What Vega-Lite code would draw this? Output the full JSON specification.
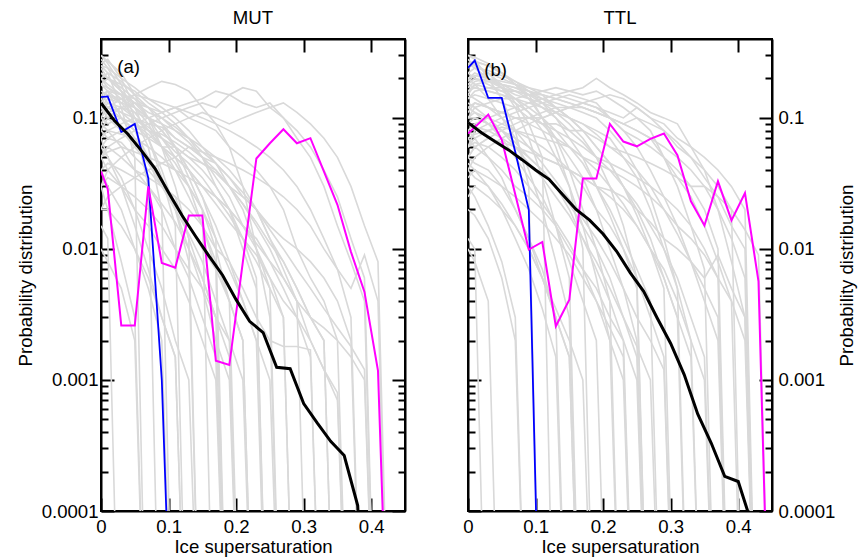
{
"$schema": "https://vega.github.io/schema/vega-lite/v6.json",
"padding": {"left": 15, "top": 8, "right": 0, "bottom": 0},
"background": "white",
"config": {
  "font": "Liberation Sans",
  "view": {"stroke": "black", "strokeWidth": 2},
  "axis": {"domain": true, "domainColor": "black", "domainWidth": 2, "grid": false, "tickColor": "black", "tickWidth": 2, "labelColor": "black", "labelFontSize": 18.6, "labelFont": "Liberation Sans", "titleFont": "Liberation Sans", "titleFontSize": 18.6, "titleFontWeight": "normal", "titleColor": "black", "labelFlush": false, "labelOverlap": false, "zindex": 1},
  "title": {"font": "Liberation Sans", "fontSize": 18.6, "fontWeight": "normal", "color": "black"},
  "concat": {"spacing": 54}
},
"datasets": {
"mut": [
{"i":1,"x":0,"y":0.25},{"i":1,"x":0.01,"y":0.22},{"i":1,"x":0.03,"y":0.12},{"i":1,"x":0.05,"y":0.05},{"i":1,"x":0.07,"y":1e-6},
{"i":2,"x":0,"y":0.3},{"i":2,"x":0.01,"y":0.26},{"i":2,"x":0.03,"y":0.18},{"i":2,"x":0.05,"y":0.1},{"i":2,"x":0.07,"y":0.06},{"i":2,"x":0.09,"y":0.02},{"i":2,"x":0.11,"y":1e-6},
{"i":3,"x":0,"y":0.2},{"i":3,"x":0.01,"y":0.18},{"i":3,"x":0.03,"y":0.15},{"i":3,"x":0.05,"y":0.09},{"i":3,"x":0.07,"y":0.07},{"i":3,"x":0.09,"y":0.04},{"i":3,"x":0.11,"y":0.02},{"i":3,"x":0.13,"y":0.008},{"i":3,"x":0.15,"y":1e-6},
{"i":4,"x":0,"y":0.15},{"i":4,"x":0.01,"y":0.16},{"i":4,"x":0.03,"y":0.1},{"i":4,"x":0.05,"y":0.08},{"i":4,"x":0.07,"y":0.05},{"i":4,"x":0.09,"y":0.03},{"i":4,"x":0.11,"y":0.025},{"i":4,"x":0.13,"y":0.012},{"i":4,"x":0.15,"y":0.006},{"i":4,"x":0.17,"y":0.003},{"i":4,"x":0.19,"y":1e-6},
{"i":5,"x":0,"y":0.22},{"i":5,"x":0.01,"y":0.2},{"i":5,"x":0.03,"y":0.17},{"i":5,"x":0.05,"y":0.14},{"i":5,"x":0.07,"y":0.1},{"i":5,"x":0.09,"y":0.08},{"i":5,"x":0.11,"y":0.06},{"i":5,"x":0.13,"y":0.035},{"i":5,"x":0.15,"y":0.02},{"i":5,"x":0.17,"y":0.01},{"i":5,"x":0.19,"y":0.004},{"i":5,"x":0.21,"y":1e-6},
{"i":6,"x":0,"y":0.18},{"i":6,"x":0.01,"y":0.2},{"i":6,"x":0.03,"y":0.18},{"i":6,"x":0.05,"y":0.16},{"i":6,"x":0.07,"y":0.13},{"i":6,"x":0.09,"y":0.11},{"i":6,"x":0.11,"y":0.09},{"i":6,"x":0.13,"y":0.07},{"i":6,"x":0.15,"y":0.05},{"i":6,"x":0.17,"y":0.03},{"i":6,"x":0.19,"y":0.02},{"i":6,"x":0.21,"y":0.012},{"i":6,"x":0.23,"y":0.006},{"i":6,"x":0.25,"y":1e-6},
{"i":7,"x":0,"y":0.1},{"i":7,"x":0.01,"y":0.12},{"i":7,"x":0.03,"y":0.11},{"i":7,"x":0.05,"y":0.1},{"i":7,"x":0.07,"y":0.09},{"i":7,"x":0.09,"y":0.085},{"i":7,"x":0.11,"y":0.07},{"i":7,"x":0.13,"y":0.06},{"i":7,"x":0.15,"y":0.05},{"i":7,"x":0.17,"y":0.045},{"i":7,"x":0.19,"y":0.035},{"i":7,"x":0.21,"y":0.025},{"i":7,"x":0.23,"y":0.02},{"i":7,"x":0.25,"y":0.012},{"i":7,"x":0.27,"y":0.007},{"i":7,"x":0.29,"y":0.004},{"i":7,"x":0.31,"y":1e-6},
{"i":8,"x":0,"y":0.08},{"i":8,"x":0.01,"y":0.1},{"i":8,"x":0.03,"y":0.12},{"i":8,"x":0.05,"y":0.13},{"i":8,"x":0.07,"y":0.12},{"i":8,"x":0.09,"y":0.11},{"i":8,"x":0.11,"y":0.12},{"i":8,"x":0.13,"y":0.1},{"i":8,"x":0.15,"y":0.09},{"i":8,"x":0.17,"y":0.08},{"i":8,"x":0.19,"y":0.06},{"i":8,"x":0.21,"y":0.05},{"i":8,"x":0.23,"y":0.04},{"i":8,"x":0.25,"y":0.03},{"i":8,"x":0.27,"y":0.02},{"i":8,"x":0.29,"y":0.01},{"i":8,"x":0.31,"y":0.006},{"i":8,"x":0.33,"y":0.004},{"i":8,"x":0.35,"y":0.002},{"i":8,"x":0.37,"y":1e-6},
{"i":9,"x":0,"y":0.05},{"i":9,"x":0.01,"y":0.06},{"i":9,"x":0.03,"y":0.07},{"i":9,"x":0.05,"y":0.08},{"i":9,"x":0.07,"y":0.09},{"i":9,"x":0.09,"y":0.1},{"i":9,"x":0.11,"y":0.11},{"i":9,"x":0.13,"y":0.12},{"i":9,"x":0.15,"y":0.13},{"i":9,"x":0.17,"y":0.12},{"i":9,"x":0.19,"y":0.15},{"i":9,"x":0.21,"y":0.13},{"i":9,"x":0.23,"y":0.12},{"i":9,"x":0.25,"y":0.13},{"i":9,"x":0.27,"y":0.1},{"i":9,"x":0.29,"y":0.08},{"i":9,"x":0.31,"y":0.06},{"i":9,"x":0.33,"y":0.04},{"i":9,"x":0.35,"y":0.025},{"i":9,"x":0.37,"y":0.012},{"i":9,"x":0.39,"y":0.006},{"i":9,"x":0.41,"y":1e-6},
{"i":10,"x":0,"y":0.12},{"i":10,"x":0.01,"y":0.14},{"i":10,"x":0.03,"y":0.13},{"i":10,"x":0.05,"y":0.15},{"i":10,"x":0.07,"y":0.17},{"i":10,"x":0.09,"y":0.19},{"i":10,"x":0.11,"y":0.18},{"i":10,"x":0.13,"y":0.16},{"i":10,"x":0.15,"y":0.12},{"i":10,"x":0.17,"y":0.09},{"i":10,"x":0.19,"y":0.06},{"i":10,"x":0.21,"y":0.03},{"i":10,"x":0.23,"y":0.01},{"i":10,"x":0.25,"y":0.003},{"i":10,"x":0.27,"y":1e-6},
{"i":11,"x":0,"y":0.06},{"i":11,"x":0.01,"y":0.07},{"i":11,"x":0.03,"y":0.08},{"i":11,"x":0.05,"y":0.09},{"i":11,"x":0.07,"y":0.1},{"i":11,"x":0.09,"y":0.11},{"i":11,"x":0.11,"y":0.12},{"i":11,"x":0.13,"y":0.13},{"i":11,"x":0.15,"y":0.14},{"i":11,"x":0.17,"y":0.16},{"i":11,"x":0.19,"y":0.15},{"i":11,"x":0.21,"y":0.17},{"i":11,"x":0.23,"y":0.16},{"i":11,"x":0.25,"y":0.12},{"i":11,"x":0.27,"y":0.1},{"i":11,"x":0.29,"y":0.07},{"i":11,"x":0.31,"y":0.05},{"i":11,"x":0.33,"y":0.03},{"i":11,"x":0.35,"y":0.015},{"i":11,"x":0.37,"y":0.008},{"i":11,"x":0.39,"y":0.004},{"i":11,"x":0.41,"y":1e-6},
{"i":12,"x":0,"y":0.04},{"i":12,"x":0.01,"y":0.03},{"i":12,"x":0.03,"y":0.02},{"i":12,"x":0.05,"y":0.01},{"i":12,"x":0.07,"y":0.005},{"i":12,"x":0.09,"y":0.002},{"i":12,"x":0.11,"y":1e-6},
{"i":13,"x":0,"y":0.03},{"i":13,"x":0.01,"y":0.02},{"i":13,"x":0.03,"y":0.008},{"i":13,"x":0.05,"y":0.003},{"i":13,"x":0.07,"y":1e-6},
{"i":14,"x":0,"y":0.07},{"i":14,"x":0.01,"y":0.05},{"i":14,"x":0.03,"y":0.03},{"i":14,"x":0.05,"y":0.015},{"i":14,"x":0.07,"y":0.007},{"i":14,"x":0.09,"y":0.003},{"i":14,"x":0.11,"y":0.0015},{"i":14,"x":0.13,"y":1e-6},
{"i":15,"x":0,"y":0.09},{"i":15,"x":0.01,"y":0.08},{"i":15,"x":0.03,"y":0.06},{"i":15,"x":0.05,"y":0.04},{"i":15,"x":0.07,"y":0.03},{"i":15,"x":0.09,"y":0.02},{"i":15,"x":0.11,"y":0.01},{"i":15,"x":0.13,"y":0.006},{"i":15,"x":0.15,"y":0.003},{"i":15,"x":0.17,"y":0.0015},{"i":15,"x":0.19,"y":1e-6},
{"i":16,"x":0,"y":0.12},{"i":16,"x":0.01,"y":0.1},{"i":16,"x":0.03,"y":0.08},{"i":16,"x":0.05,"y":0.06},{"i":16,"x":0.07,"y":0.045},{"i":16,"x":0.09,"y":0.03},{"i":16,"x":0.11,"y":0.022},{"i":16,"x":0.13,"y":0.015},{"i":16,"x":0.15,"y":0.01},{"i":16,"x":0.17,"y":0.007},{"i":16,"x":0.19,"y":0.004},{"i":16,"x":0.21,"y":0.002},{"i":16,"x":0.23,"y":1e-6},
{"i":17,"x":0,"y":0.05},{"i":17,"x":0.01,"y":0.06},{"i":17,"x":0.03,"y":0.05},{"i":17,"x":0.05,"y":0.04},{"i":17,"x":0.07,"y":0.035},{"i":17,"x":0.09,"y":0.03},{"i":17,"x":0.11,"y":0.025},{"i":17,"x":0.13,"y":0.02},{"i":17,"x":0.15,"y":0.015},{"i":17,"x":0.17,"y":0.01},{"i":17,"x":0.19,"y":0.008},{"i":17,"x":0.21,"y":0.005},{"i":17,"x":0.23,"y":0.003},{"i":17,"x":0.25,"y":0.002},{"i":17,"x":0.27,"y":0.0018},{"i":17,"x":0.29,"y":0.0018},{"i":17,"x":0.31,"y":0.0017},{"i":17,"x":0.33,"y":1e-6},
{"i":18,"x":0,"y":0.02},{"i":18,"x":0.01,"y":0.025},{"i":18,"x":0.03,"y":0.03},{"i":18,"x":0.05,"y":0.035},{"i":18,"x":0.07,"y":0.04},{"i":18,"x":0.09,"y":0.045},{"i":18,"x":0.11,"y":0.05},{"i":18,"x":0.13,"y":0.06},{"i":18,"x":0.15,"y":0.055},{"i":18,"x":0.17,"y":0.05},{"i":18,"x":0.19,"y":0.045},{"i":18,"x":0.21,"y":0.04},{"i":18,"x":0.23,"y":0.035},{"i":18,"x":0.25,"y":0.03},{"i":18,"x":0.27,"y":0.025},{"i":18,"x":0.29,"y":0.02},{"i":18,"x":0.31,"y":0.015},{"i":18,"x":0.33,"y":0.01},{"i":18,"x":0.35,"y":0.007},{"i":18,"x":0.37,"y":0.005},{"i":18,"x":0.39,"y":0.009},{"i":18,"x":0.41,"y":0.004},{"i":18,"x":0.43,"y":1e-6},
{"i":19,"x":0,"y":0.28},{"i":19,"x":0.01,"y":0.24},{"i":19,"x":0.03,"y":0.16},{"i":19,"x":0.05,"y":0.09},{"i":19,"x":0.07,"y":0.03},{"i":19,"x":0.09,"y":1e-6},
{"i":20,"x":0,"y":0.16},{"i":20,"x":0.01,"y":0.15},{"i":20,"x":0.03,"y":0.13},{"i":20,"x":0.05,"y":0.12},{"i":20,"x":0.07,"y":0.1},{"i":20,"x":0.09,"y":0.09},{"i":20,"x":0.11,"y":0.07},{"i":20,"x":0.13,"y":0.06},{"i":20,"x":0.15,"y":0.05},{"i":20,"x":0.17,"y":0.035},{"i":20,"x":0.19,"y":0.025},{"i":20,"x":0.21,"y":0.015},{"i":20,"x":0.23,"y":0.01},{"i":20,"x":0.25,"y":0.006},{"i":20,"x":0.27,"y":0.003},{"i":20,"x":0.29,"y":1e-6},
{"i":21,"x":0,"y":0.1},{"i":21,"x":0.01,"y":0.09},{"i":21,"x":0.03,"y":0.1},{"i":21,"x":0.05,"y":0.08},{"i":21,"x":0.07,"y":0.07},{"i":21,"x":0.09,"y":0.06},{"i":21,"x":0.11,"y":0.06},{"i":21,"x":0.13,"y":0.05},{"i":21,"x":0.15,"y":0.04},{"i":21,"x":0.17,"y":0.03},{"i":21,"x":0.19,"y":0.02},{"i":21,"x":0.21,"y":0.01},{"i":21,"x":0.23,"y":0.005},{"i":21,"x":0.25,"y":1e-6},
{"i":22,"x":0,"y":0.07},{"i":22,"x":0.01,"y":0.08},{"i":22,"x":0.03,"y":0.09},{"i":22,"x":0.05,"y":0.1},{"i":22,"x":0.07,"y":0.08},{"i":22,"x":0.09,"y":0.07},{"i":22,"x":0.11,"y":0.06},{"i":22,"x":0.13,"y":0.05},{"i":22,"x":0.15,"y":0.045},{"i":22,"x":0.17,"y":0.04},{"i":22,"x":0.19,"y":0.03},{"i":22,"x":0.21,"y":0.025},{"i":22,"x":0.23,"y":0.02},{"i":22,"x":0.25,"y":0.015},{"i":22,"x":0.27,"y":0.012},{"i":22,"x":0.29,"y":0.01},{"i":22,"x":0.31,"y":0.008},{"i":22,"x":0.33,"y":0.006},{"i":22,"x":0.35,"y":0.004},{"i":22,"x":0.37,"y":0.002},{"i":22,"x":0.39,"y":1e-6},
{"i":23,"x":0,"y":0.2},{"i":23,"x":0.01,"y":0.17},{"i":23,"x":0.03,"y":0.14},{"i":23,"x":0.05,"y":0.11},{"i":23,"x":0.07,"y":0.08},{"i":23,"x":0.09,"y":0.06},{"i":23,"x":0.11,"y":0.045},{"i":23,"x":0.13,"y":0.03},{"i":23,"x":0.15,"y":0.02},{"i":23,"x":0.17,"y":1e-6},
{"i":24,"x":0,"y":0.14},{"i":24,"x":0.01,"y":0.12},{"i":24,"x":0.03,"y":0.1},{"i":24,"x":0.05,"y":0.07},{"i":24,"x":0.07,"y":0.05},{"i":24,"x":0.09,"y":0.035},{"i":24,"x":0.11,"y":0.02},{"i":24,"x":0.13,"y":0.01},{"i":24,"x":0.15,"y":0.005},{"i":24,"x":0.17,"y":0.002},{"i":24,"x":0.19,"y":0.001},{"i":24,"x":0.21,"y":1e-6},
{"i":25,"x":0,"y":0.03},{"i":25,"x":0.01,"y":0.04},{"i":25,"x":0.03,"y":0.05},{"i":25,"x":0.05,"y":0.06},{"i":25,"x":0.07,"y":0.07},{"i":25,"x":0.09,"y":0.08},{"i":25,"x":0.11,"y":0.09},{"i":25,"x":0.13,"y":0.1},{"i":25,"x":0.15,"y":0.11},{"i":25,"x":0.17,"y":0.1},{"i":25,"x":0.19,"y":0.09},{"i":25,"x":0.21,"y":0.1},{"i":25,"x":0.23,"y":0.11},{"i":25,"x":0.25,"y":0.12},{"i":25,"x":0.27,"y":0.13},{"i":25,"x":0.29,"y":0.11},{"i":25,"x":0.31,"y":0.09},{"i":25,"x":0.33,"y":0.07},{"i":25,"x":0.35,"y":0.05},{"i":25,"x":0.37,"y":0.03},{"i":25,"x":0.39,"y":0.015},{"i":25,"x":0.41,"y":0.008},{"i":25,"x":0.43,"y":1e-6},
{"i":26,"x":0,"y":0.01},{"i":26,"x":0.01,"y":0.008},{"i":26,"x":0.03,"y":0.005},{"i":26,"x":0.05,"y":0.002},{"i":26,"x":0.07,"y":1e-6},
{"i":27,"x":0,"y":0.05},{"i":27,"x":0.01,"y":0.04},{"i":27,"x":0.03,"y":0.03},{"i":27,"x":0.05,"y":0.02},{"i":27,"x":0.07,"y":0.015},{"i":27,"x":0.09,"y":0.01},{"i":27,"x":0.11,"y":0.007},{"i":27,"x":0.13,"y":0.004},{"i":27,"x":0.15,"y":0.002},{"i":27,"x":0.17,"y":0.001},{"i":27,"x":0.19,"y":1e-6},
{"i":28,"x":0,"y":0.18},{"i":28,"x":0.01,"y":0.16},{"i":28,"x":0.03,"y":0.13},{"i":28,"x":0.05,"y":0.1},{"i":28,"x":0.07,"y":0.08},{"i":28,"x":0.09,"y":0.06},{"i":28,"x":0.11,"y":0.05},{"i":28,"x":0.13,"y":0.04},{"i":28,"x":0.15,"y":0.03},{"i":28,"x":0.17,"y":0.025},{"i":28,"x":0.19,"y":0.02},{"i":28,"x":0.21,"y":0.015},{"i":28,"x":0.23,"y":0.012},{"i":28,"x":0.25,"y":0.008},{"i":28,"x":0.27,"y":0.005},{"i":28,"x":0.29,"y":0.003},{"i":28,"x":0.31,"y":0.0015},{"i":28,"x":0.33,"y":1e-6},
{"i":29,"x":0,"y":0.24},{"i":29,"x":0.01,"y":0.2},{"i":29,"x":0.03,"y":0.16},{"i":29,"x":0.05,"y":0.13},{"i":29,"x":0.07,"y":0.1},{"i":29,"x":0.09,"y":0.07},{"i":29,"x":0.11,"y":0.05},{"i":29,"x":0.13,"y":0.03},{"i":29,"x":0.15,"y":0.015},{"i":29,"x":0.17,"y":0.007},{"i":29,"x":0.19,"y":1e-6},
{"i":30,"x":0,"y":0.11},{"i":30,"x":0.01,"y":0.13},{"i":30,"x":0.03,"y":0.11},{"i":30,"x":0.05,"y":0.09},{"i":30,"x":0.07,"y":0.075},{"i":30,"x":0.09,"y":0.06},{"i":30,"x":0.11,"y":0.05},{"i":30,"x":0.13,"y":0.04},{"i":30,"x":0.15,"y":0.03},{"i":30,"x":0.17,"y":0.022},{"i":30,"x":0.19,"y":0.016},{"i":30,"x":0.21,"y":0.012},{"i":30,"x":0.23,"y":0.009},{"i":30,"x":0.25,"y":0.006},{"i":30,"x":0.27,"y":0.004},{"i":30,"x":0.29,"y":0.003},{"i":30,"x":0.31,"y":0.002},{"i":30,"x":0.33,"y":0.0012},{"i":30,"x":0.35,"y":0.0008},{"i":30,"x":0.37,"y":1e-6},
{"i":31,"x":0,"y":0.015},{"i":31,"x":0.01,"y":0.012},{"i":31,"x":0.03,"y":1e-6},
{"i":32,"x":0,"y":0.26},{"i":32,"x":0.01,"y":0.28},{"i":32,"x":0.03,"y":0.2},{"i":32,"x":0.05,"y":0.12},{"i":32,"x":0.07,"y":0.07},{"i":32,"x":0.09,"y":0.035},{"i":32,"x":0.11,"y":0.015},{"i":32,"x":0.13,"y":1e-6},
{"i":33,"x":0,"y":0.06},{"i":33,"x":0.01,"y":0.05},{"i":33,"x":0.03,"y":0.035},{"i":33,"x":0.05,"y":0.02},{"i":33,"x":0.07,"y":0.01},{"i":33,"x":0.09,"y":0.005},{"i":33,"x":0.11,"y":0.002},{"i":33,"x":0.13,"y":0.001},{"i":33,"x":0.15,"y":1e-6},
{"i":34,"x":0,"y":0.13},{"i":34,"x":0.01,"y":0.15},{"i":34,"x":0.03,"y":0.14},{"i":34,"x":0.05,"y":0.12},{"i":34,"x":0.07,"y":0.1},{"i":34,"x":0.09,"y":0.08},{"i":34,"x":0.11,"y":0.06},{"i":34,"x":0.13,"y":0.04},{"i":34,"x":0.15,"y":0.025},{"i":34,"x":0.17,"y":0.015},{"i":34,"x":0.19,"y":0.008},{"i":34,"x":0.21,"y":0.004},{"i":34,"x":0.23,"y":0.002},{"i":34,"x":0.25,"y":1e-6},
{"i":35,"x":0,"y":0.09},{"i":35,"x":0.01,"y":0.11},{"i":35,"x":0.03,"y":0.12},{"i":35,"x":0.05,"y":0.11},{"i":35,"x":0.07,"y":0.1},{"i":35,"x":0.09,"y":0.09},{"i":35,"x":0.11,"y":0.08},{"i":35,"x":0.13,"y":0.07},{"i":35,"x":0.15,"y":0.06},{"i":35,"x":0.17,"y":0.05},{"i":35,"x":0.19,"y":0.04},{"i":35,"x":0.21,"y":0.03},{"i":35,"x":0.23,"y":0.02},{"i":35,"x":0.25,"y":0.012},{"i":35,"x":0.27,"y":0.008},{"i":35,"x":0.29,"y":0.005},{"i":35,"x":0.31,"y":0.003},{"i":35,"x":0.33,"y":0.002},{"i":35,"x":0.35,"y":1e-6},
{"i":36,"x":0,"y":0.2},{"i":36,"x":0.01,"y":0.22},{"i":36,"x":0.03,"y":0.19},{"i":36,"x":0.05,"y":0.15},{"i":36,"x":0.07,"y":0.12},{"i":36,"x":0.09,"y":0.09},{"i":36,"x":0.11,"y":0.06},{"i":36,"x":0.13,"y":0.04},{"i":36,"x":0.15,"y":0.025},{"i":36,"x":0.17,"y":0.012},{"i":36,"x":0.19,"y":1e-6},
{"i":37,"x":0,"y":0.15},{"i":37,"x":0.01,"y":0.13},{"i":37,"x":0.03,"y":0.12},{"i":37,"x":0.05,"y":0.1},{"i":37,"x":0.07,"y":0.085},{"i":37,"x":0.09,"y":0.07},{"i":37,"x":0.11,"y":0.055},{"i":37,"x":0.13,"y":0.045},{"i":37,"x":0.15,"y":0.035},{"i":37,"x":0.17,"y":0.025},{"i":37,"x":0.19,"y":0.018},{"i":37,"x":0.21,"y":0.012},{"i":37,"x":0.23,"y":0.008},{"i":37,"x":0.25,"y":0.005},{"i":37,"x":0.27,"y":0.003},{"i":37,"x":0.29,"y":1e-6},
{"i":38,"x":0,"y":0.08},{"i":38,"x":0.01,"y":0.07},{"i":38,"x":0.03,"y":0.065},{"i":38,"x":0.05,"y":0.05},{"i":38,"x":0.07,"y":0.04},{"i":38,"x":0.09,"y":0.03},{"i":38,"x":0.11,"y":0.02},{"i":38,"x":0.13,"y":0.013},{"i":38,"x":0.15,"y":0.008},{"i":38,"x":0.17,"y":0.004},{"i":38,"x":0.19,"y":0.002},{"i":38,"x":0.21,"y":1e-6},
{"i":39,"x":0,"y":0.25},{"i":39,"x":0.01,"y":0.24},{"i":39,"x":0.03,"y":0.2},{"i":39,"x":0.05,"y":0.17},{"i":39,"x":0.07,"y":0.14},{"i":39,"x":0.09,"y":0.12},{"i":39,"x":0.11,"y":0.1},{"i":39,"x":0.13,"y":0.08},{"i":39,"x":0.15,"y":0.06},{"i":39,"x":0.17,"y":0.045},{"i":39,"x":0.19,"y":0.03},{"i":39,"x":0.21,"y":0.02},{"i":39,"x":0.23,"y":0.01},{"i":39,"x":0.25,"y":0.005},{"i":39,"x":0.27,"y":1e-6},
{"i":40,"x":0,"y":0.04},{"i":40,"x":0.01,"y":0.045},{"i":40,"x":0.03,"y":0.04},{"i":40,"x":0.05,"y":0.035},{"i":40,"x":0.07,"y":0.03},{"i":40,"x":0.09,"y":0.022},{"i":40,"x":0.11,"y":0.016},{"i":40,"x":0.13,"y":0.01},{"i":40,"x":0.15,"y":0.006},{"i":40,"x":0.17,"y":0.003},{"i":40,"x":0.19,"y":0.0015},{"i":40,"x":0.21,"y":1e-6},
{"i":41,"x":0,"y":0.12},{"i":41,"x":0.01,"y":0.11},{"i":41,"x":0.03,"y":0.1},{"i":41,"x":0.05,"y":0.09},{"i":41,"x":0.07,"y":0.08},{"i":41,"x":0.09,"y":0.075},{"i":41,"x":0.11,"y":0.065},{"i":41,"x":0.13,"y":0.055},{"i":41,"x":0.15,"y":0.045},{"i":41,"x":0.17,"y":0.038},{"i":41,"x":0.19,"y":0.03},{"i":41,"x":0.21,"y":0.022},{"i":41,"x":0.23,"y":0.016},{"i":41,"x":0.25,"y":0.011},{"i":41,"x":0.27,"y":0.008},{"i":41,"x":0.29,"y":0.005},{"i":41,"x":0.31,"y":0.003},{"i":41,"x":0.33,"y":0.002},{"i":41,"x":0.35,"y":1e-6},
{"i":42,"x":0,"y":0.18},{"i":42,"x":0.01,"y":0.17},{"i":42,"x":0.03,"y":0.15},{"i":42,"x":0.05,"y":0.13},{"i":42,"x":0.07,"y":0.11},{"i":42,"x":0.09,"y":0.1},{"i":42,"x":0.11,"y":0.08},{"i":42,"x":0.13,"y":0.065},{"i":42,"x":0.15,"y":0.05},{"i":42,"x":0.17,"y":0.04},{"i":42,"x":0.19,"y":0.03},{"i":42,"x":0.21,"y":0.022},{"i":42,"x":0.23,"y":0.015},{"i":42,"x":0.25,"y":0.01},{"i":42,"x":0.27,"y":0.006},{"i":42,"x":0.29,"y":0.004},{"i":42,"x":0.31,"y":0.002},{"i":42,"x":0.33,"y":0.0012},{"i":42,"x":0.35,"y":0.0007},{"i":42,"x":0.37,"y":1e-6},
{"i":43,"x":0,"y":0.03},{"i":43,"x":0.01,"y":0.035},{"i":43,"x":0.03,"y":0.03},{"i":43,"x":0.05,"y":0.025},{"i":43,"x":0.07,"y":0.02},{"i":43,"x":0.09,"y":0.015},{"i":43,"x":0.11,"y":0.01},{"i":43,"x":0.13,"y":0.007},{"i":43,"x":0.15,"y":0.005},{"i":43,"x":0.17,"y":0.003},{"i":43,"x":0.19,"y":0.002},{"i":43,"x":0.21,"y":0.001},{"i":43,"x":0.23,"y":1e-6},
{"i":44,"x":0,"y":0.1},{"i":44,"x":0.01,"y":0.12},{"i":44,"x":0.03,"y":0.14},{"i":44,"x":0.05,"y":0.15},{"i":44,"x":0.07,"y":0.14},{"i":44,"x":0.09,"y":0.13},{"i":44,"x":0.11,"y":0.12},{"i":44,"x":0.13,"y":0.11},{"i":44,"x":0.15,"y":0.1},{"i":44,"x":0.17,"y":0.09},{"i":44,"x":0.19,"y":0.08},{"i":44,"x":0.21,"y":0.07},{"i":44,"x":0.23,"y":0.06},{"i":44,"x":0.25,"y":0.05},{"i":44,"x":0.27,"y":0.04},{"i":44,"x":0.29,"y":0.03},{"i":44,"x":0.31,"y":0.02},{"i":44,"x":0.33,"y":0.012},{"i":44,"x":0.35,"y":0.007},{"i":44,"x":0.37,"y":0.003},{"i":44,"x":0.39,"y":1e-6},
{"i":45,"x":0,"y":0.22},{"i":45,"x":0.01,"y":0.2},{"i":45,"x":0.03,"y":0.16},{"i":45,"x":0.05,"y":0.12},{"i":45,"x":0.07,"y":0.09},{"i":45,"x":0.09,"y":0.06},{"i":45,"x":0.11,"y":0.04},{"i":45,"x":0.13,"y":0.025},{"i":45,"x":0.15,"y":0.015},{"i":45,"x":0.17,"y":0.008},{"i":45,"x":0.19,"y":0.004},{"i":45,"x":0.21,"y":0.002},{"i":45,"x":0.23,"y":1e-6},
{"i":46,"x":0,"y":0.07},{"i":46,"x":0.01,"y":0.08},{"i":46,"x":0.03,"y":0.075},{"i":46,"x":0.05,"y":0.07},{"i":46,"x":0.07,"y":0.06},{"i":46,"x":0.09,"y":0.05},{"i":46,"x":0.11,"y":0.04},{"i":46,"x":0.13,"y":0.03},{"i":46,"x":0.15,"y":0.02},{"i":46,"x":0.17,"y":0.012},{"i":46,"x":0.19,"y":0.007},{"i":46,"x":0.21,"y":0.004},{"i":46,"x":0.23,"y":0.002},{"i":46,"x":0.25,"y":0.001},{"i":46,"x":0.27,"y":1e-6},
{"i":47,"x":0,"y":0.14},{"i":47,"x":0.01,"y":0.16},{"i":47,"x":0.03,"y":0.15},{"i":47,"x":0.05,"y":0.14},{"i":47,"x":0.07,"y":0.12},{"i":47,"x":0.09,"y":0.1},{"i":47,"x":0.11,"y":0.085},{"i":47,"x":0.13,"y":0.07},{"i":47,"x":0.15,"y":0.055},{"i":47,"x":0.17,"y":0.045},{"i":47,"x":0.19,"y":0.035},{"i":47,"x":0.21,"y":0.027},{"i":47,"x":0.23,"y":0.02},{"i":47,"x":0.25,"y":0.014},{"i":47,"x":0.27,"y":0.01},{"i":47,"x":0.29,"y":0.007},{"i":47,"x":0.31,"y":0.005},{"i":47,"x":0.33,"y":0.0035},{"i":47,"x":0.35,"y":0.0025},{"i":47,"x":0.37,"y":0.0018},{"i":47,"x":0.39,"y":0.0012},{"i":47,"x":0.41,"y":1e-6},
{"i":48,"x":0,"y":0.02},{"i":48,"x":0.01,"y":0.02},{"i":48,"x":0.03,"y":0.015},{"i":48,"x":0.05,"y":0.01},{"i":48,"x":0.07,"y":0.006},{"i":48,"x":0.09,"y":0.003},{"i":48,"x":0.11,"y":0.0015},{"i":48,"x":0.13,"y":1e-6},
{"i":49,"x":0,"y":0.3},{"i":49,"x":0.01,"y":0.27},{"i":49,"x":0.03,"y":0.22},{"i":49,"x":0.05,"y":0.15},{"i":49,"x":0.07,"y":0.1},{"i":49,"x":0.09,"y":0.06},{"i":49,"x":0.11,"y":0.03},{"i":49,"x":0.13,"y":0.012},{"i":49,"x":0.15,"y":1e-6},
{"i":50,"x":0,"y":0.05},{"i":50,"x":0.01,"y":0.055},{"i":50,"x":0.03,"y":0.06},{"i":50,"x":0.05,"y":0.055},{"i":50,"x":0.07,"y":0.05},{"i":50,"x":0.09,"y":0.045},{"i":50,"x":0.11,"y":0.04},{"i":50,"x":0.13,"y":0.035},{"i":50,"x":0.15,"y":0.03},{"i":50,"x":0.17,"y":0.025},{"i":50,"x":0.19,"y":0.02},{"i":50,"x":0.21,"y":0.015},{"i":50,"x":0.23,"y":0.011},{"i":50,"x":0.25,"y":0.008},{"i":50,"x":0.27,"y":0.006},{"i":50,"x":0.29,"y":0.004},{"i":50,"x":0.31,"y":0.003},{"i":50,"x":0.33,"y":0.0025},{"i":50,"x":0.35,"y":0.002},{"i":50,"x":0.37,"y":0.0015},{"i":50,"x":0.39,"y":0.001},{"i":50,"x":0.41,"y":1e-6},
{"i":"b","x":0,"y":0.144},{"i":"b","x":0.01,"y":0.146},{"i":"b","x":0.03,"y":0.078},{"i":"b","x":0.05,"y":0.09},{"i":"b","x":0.07,"y":0.0347},{"i":"b","x":0.09,"y":0.001},{"i":"b","x":0.11,"y":1e-6},
{"i":"m","x":0,"y":0.039},{"i":"m","x":0.01,"y":0.0286},{"i":"m","x":0.03,"y":0.0026},{"i":"m","x":0.05,"y":0.0026},{"i":"m","x":0.07,"y":0.03},{"i":"m","x":0.09,"y":0.0078},{"i":"m","x":0.11,"y":0.0072},{"i":"m","x":0.13,"y":0.018},{"i":"m","x":0.15,"y":0.018},{"i":"m","x":0.17,"y":0.0014},{"i":"m","x":0.19,"y":0.0013},{"i":"m","x":0.23,"y":0.049},{"i":"m","x":0.25,"y":0.064},{"i":"m","x":0.27,"y":0.082},{"i":"m","x":0.29,"y":0.064},{"i":"m","x":0.31,"y":0.07},{"i":"m","x":0.35,"y":0.0217},{"i":"m","x":0.37,"y":0.0095},{"i":"m","x":0.39,"y":0.0047},{"i":"m","x":0.41,"y":0.00118},{"i":"m","x":0.43,"y":1e-6},
{"i":"k","x":0,"y":0.13},{"i":"k","x":0.02,"y":0.095},{"i":"k","x":0.04,"y":0.075},{"i":"k","x":0.06,"y":0.056},{"i":"k","x":0.08,"y":0.041},{"i":"k","x":0.1,"y":0.027},{"i":"k","x":0.12,"y":0.018},{"i":"k","x":0.14,"y":0.0125},{"i":"k","x":0.16,"y":0.0088},{"i":"k","x":0.18,"y":0.0063},{"i":"k","x":0.2,"y":0.0041},{"i":"k","x":0.22,"y":0.0028},{"i":"k","x":0.24,"y":0.0023},{"i":"k","x":0.26,"y":0.00125},{"i":"k","x":0.28,"y":0.00122},{"i":"k","x":0.3,"y":0.00066},{"i":"k","x":0.32,"y":0.00047},{"i":"k","x":0.34,"y":0.00034},{"i":"k","x":0.36,"y":0.000265},{"i":"k","x":0.38,"y":0.00011},{"i":"k","x":0.4,"y":1e-6}
],
"ttl": [
{"i":1,"x":0,"y":0.3},{"i":1,"x":0.01,"y":0.28},{"i":1,"x":0.03,"y":0.2},{"i":1,"x":0.05,"y":0.14},{"i":1,"x":0.07,"y":0.08},{"i":1,"x":0.09,"y":0.03},{"i":1,"x":0.11,"y":1e-6},
{"i":2,"x":0,"y":0.25},{"i":2,"x":0.01,"y":0.27},{"i":2,"x":0.03,"y":0.25},{"i":2,"x":0.05,"y":0.22},{"i":2,"x":0.07,"y":0.18},{"i":2,"x":0.09,"y":0.15},{"i":2,"x":0.11,"y":0.1},{"i":2,"x":0.13,"y":0.06},{"i":2,"x":0.15,"y":0.03},{"i":2,"x":0.17,"y":0.01},{"i":2,"x":0.19,"y":1e-6},
{"i":3,"x":0,"y":0.2},{"i":3,"x":0.01,"y":0.22},{"i":3,"x":0.03,"y":0.2},{"i":3,"x":0.05,"y":0.18},{"i":3,"x":0.07,"y":0.17},{"i":3,"x":0.09,"y":0.15},{"i":3,"x":0.11,"y":0.13},{"i":3,"x":0.13,"y":0.11},{"i":3,"x":0.15,"y":0.09},{"i":3,"x":0.17,"y":0.07},{"i":3,"x":0.19,"y":0.05},{"i":3,"x":0.21,"y":0.03},{"i":3,"x":0.23,"y":0.015},{"i":3,"x":0.25,"y":0.006},{"i":3,"x":0.27,"y":1e-6},
{"i":4,"x":0,"y":0.15},{"i":4,"x":0.01,"y":0.18},{"i":4,"x":0.03,"y":0.17},{"i":4,"x":0.05,"y":0.16},{"i":4,"x":0.07,"y":0.16},{"i":4,"x":0.09,"y":0.15},{"i":4,"x":0.11,"y":0.14},{"i":4,"x":0.13,"y":0.13},{"i":4,"x":0.15,"y":0.12},{"i":4,"x":0.17,"y":0.11},{"i":4,"x":0.19,"y":0.1},{"i":4,"x":0.21,"y":0.08},{"i":4,"x":0.23,"y":0.06},{"i":4,"x":0.25,"y":0.04},{"i":4,"x":0.27,"y":0.025},{"i":4,"x":0.29,"y":0.012},{"i":4,"x":0.31,"y":0.005},{"i":4,"x":0.33,"y":1e-6},
{"i":5,"x":0,"y":0.1},{"i":5,"x":0.01,"y":0.12},{"i":5,"x":0.03,"y":0.13},{"i":5,"x":0.05,"y":0.14},{"i":5,"x":0.07,"y":0.14},{"i":5,"x":0.09,"y":0.15},{"i":5,"x":0.11,"y":0.16},{"i":5,"x":0.13,"y":0.17},{"i":5,"x":0.15,"y":0.16},{"i":5,"x":0.17,"y":0.15},{"i":5,"x":0.19,"y":0.16},{"i":5,"x":0.21,"y":0.14},{"i":5,"x":0.23,"y":0.12},{"i":5,"x":0.25,"y":0.1},{"i":5,"x":0.27,"y":0.08},{"i":5,"x":0.29,"y":0.05},{"i":5,"x":0.31,"y":0.03},{"i":5,"x":0.33,"y":0.015},{"i":5,"x":0.35,"y":0.007},{"i":5,"x":0.37,"y":1e-6},
{"i":6,"x":0,"y":0.08},{"i":6,"x":0.01,"y":0.09},{"i":6,"x":0.03,"y":0.1},{"i":6,"x":0.05,"y":0.11},{"i":6,"x":0.07,"y":0.12},{"i":6,"x":0.09,"y":0.13},{"i":6,"x":0.11,"y":0.14},{"i":6,"x":0.13,"y":0.15},{"i":6,"x":0.15,"y":0.16},{"i":6,"x":0.17,"y":0.17},{"i":6,"x":0.19,"y":0.2},{"i":6,"x":0.21,"y":0.17},{"i":6,"x":0.23,"y":0.15},{"i":6,"x":0.25,"y":0.13},{"i":6,"x":0.27,"y":0.11},{"i":6,"x":0.29,"y":0.1},{"i":6,"x":0.31,"y":0.09},{"i":6,"x":0.33,"y":0.06},{"i":6,"x":0.35,"y":0.04},{"i":6,"x":0.37,"y":0.02},{"i":6,"x":0.39,"y":0.008},{"i":6,"x":0.41,"y":0.003},{"i":6,"x":0.43,"y":1e-6},
{"i":7,"x":0,"y":0.06},{"i":7,"x":0.01,"y":0.07},{"i":7,"x":0.03,"y":0.08},{"i":7,"x":0.05,"y":0.09},{"i":7,"x":0.07,"y":0.1},{"i":7,"x":0.09,"y":0.1},{"i":7,"x":0.11,"y":0.11},{"i":7,"x":0.13,"y":0.12},{"i":7,"x":0.15,"y":0.12},{"i":7,"x":0.17,"y":0.13},{"i":7,"x":0.19,"y":0.14},{"i":7,"x":0.21,"y":0.15},{"i":7,"x":0.23,"y":0.14},{"i":7,"x":0.25,"y":0.12},{"i":7,"x":0.27,"y":0.1},{"i":7,"x":0.29,"y":0.09},{"i":7,"x":0.31,"y":0.07},{"i":7,"x":0.33,"y":0.06},{"i":7,"x":0.35,"y":0.05},{"i":7,"x":0.37,"y":0.04},{"i":7,"x":0.39,"y":0.03},{"i":7,"x":0.41,"y":0.02},{"i":7,"x":0.43,"y":1e-6},
{"i":8,"x":0,"y":0.2},{"i":8,"x":0.01,"y":0.18},{"i":8,"x":0.03,"y":0.14},{"i":8,"x":0.05,"y":0.1},{"i":8,"x":0.07,"y":0.07},{"i":8,"x":0.09,"y":0.04},{"i":8,"x":0.11,"y":0.02},{"i":8,"x":0.13,"y":0.008},{"i":8,"x":0.15,"y":0.003},{"i":8,"x":0.17,"y":1e-6},
{"i":9,"x":0,"y":0.12},{"i":9,"x":0.01,"y":0.11},{"i":9,"x":0.03,"y":0.09},{"i":9,"x":0.05,"y":0.07},{"i":9,"x":0.07,"y":0.05},{"i":9,"x":0.09,"y":0.035},{"i":9,"x":0.11,"y":0.025},{"i":9,"x":0.13,"y":0.015},{"i":9,"x":0.15,"y":0.008},{"i":9,"x":0.17,"y":0.004},{"i":9,"x":0.19,"y":0.002},{"i":9,"x":0.21,"y":1e-6},
{"i":10,"x":0,"y":0.05},{"i":10,"x":0.01,"y":0.045},{"i":10,"x":0.03,"y":0.04},{"i":10,"x":0.05,"y":0.03},{"i":10,"x":0.07,"y":0.02},{"i":10,"x":0.09,"y":0.012},{"i":10,"x":0.11,"y":0.007},{"i":10,"x":0.13,"y":0.003},{"i":10,"x":0.15,"y":1e-6},
{"i":11,"x":0,"y":0.03},{"i":11,"x":0.01,"y":0.025},{"i":11,"x":0.03,"y":0.015},{"i":11,"x":0.05,"y":0.008},{"i":11,"x":0.07,"y":0.003},{"i":11,"x":0.09,"y":1e-6},
{"i":12,"x":0,"y":0.09},{"i":12,"x":0.01,"y":0.1},{"i":12,"x":0.03,"y":0.09},{"i":12,"x":0.05,"y":0.08},{"i":12,"x":0.07,"y":0.07},{"i":12,"x":0.09,"y":0.06},{"i":12,"x":0.11,"y":0.05},{"i":12,"x":0.13,"y":0.045},{"i":12,"x":0.15,"y":0.04},{"i":12,"x":0.17,"y":0.035},{"i":12,"x":0.19,"y":0.03},{"i":12,"x":0.21,"y":0.025},{"i":12,"x":0.23,"y":0.02},{"i":12,"x":0.25,"y":0.015},{"i":12,"x":0.27,"y":0.01},{"i":12,"x":0.29,"y":0.007},{"i":12,"x":0.31,"y":0.004},{"i":12,"x":0.33,"y":0.002},{"i":12,"x":0.35,"y":0.001},{"i":12,"x":0.37,"y":1e-6},
{"i":13,"x":0,"y":0.14},{"i":13,"x":0.01,"y":0.15},{"i":13,"x":0.03,"y":0.14},{"i":13,"x":0.05,"y":0.13},{"i":13,"x":0.07,"y":0.12},{"i":13,"x":0.09,"y":0.1},{"i":13,"x":0.11,"y":0.09},{"i":13,"x":0.13,"y":0.08},{"i":13,"x":0.15,"y":0.07},{"i":13,"x":0.17,"y":0.06},{"i":13,"x":0.19,"y":0.05},{"i":13,"x":0.21,"y":0.045},{"i":13,"x":0.23,"y":0.04},{"i":13,"x":0.25,"y":0.035},{"i":13,"x":0.27,"y":0.03},{"i":13,"x":0.29,"y":0.025},{"i":13,"x":0.31,"y":0.02},{"i":13,"x":0.33,"y":0.015},{"i":13,"x":0.35,"y":0.01},{"i":13,"x":0.37,"y":0.006},{"i":13,"x":0.39,"y":1e-6},
{"i":14,"x":0,"y":0.22},{"i":14,"x":0.01,"y":0.2},{"i":14,"x":0.03,"y":0.18},{"i":14,"x":0.05,"y":0.16},{"i":14,"x":0.07,"y":0.14},{"i":14,"x":0.09,"y":0.12},{"i":14,"x":0.11,"y":0.1},{"i":14,"x":0.13,"y":0.08},{"i":14,"x":0.15,"y":0.06},{"i":14,"x":0.17,"y":0.045},{"i":14,"x":0.19,"y":0.03},{"i":14,"x":0.21,"y":0.02},{"i":14,"x":0.23,"y":0.012},{"i":14,"x":0.25,"y":0.007},{"i":14,"x":0.27,"y":0.004},{"i":14,"x":0.29,"y":1e-6},
{"i":15,"x":0,"y":0.07},{"i":15,"x":0.01,"y":0.06},{"i":15,"x":0.03,"y":0.05},{"i":15,"x":0.05,"y":0.04},{"i":15,"x":0.07,"y":0.03},{"i":15,"x":0.09,"y":0.025},{"i":15,"x":0.11,"y":0.02},{"i":15,"x":0.13,"y":0.015},{"i":15,"x":0.15,"y":0.01},{"i":15,"x":0.17,"y":0.007},{"i":15,"x":0.19,"y":0.005},{"i":15,"x":0.21,"y":0.003},{"i":15,"x":0.23,"y":0.002},{"i":15,"x":0.25,"y":1e-6},
{"i":16,"x":0,"y":0.04},{"i":16,"x":0.01,"y":0.05},{"i":16,"x":0.03,"y":0.06},{"i":16,"x":0.05,"y":0.07},{"i":16,"x":0.07,"y":0.08},{"i":16,"x":0.09,"y":0.09},{"i":16,"x":0.11,"y":0.1},{"i":16,"x":0.13,"y":0.11},{"i":16,"x":0.15,"y":0.12},{"i":16,"x":0.17,"y":0.13},{"i":16,"x":0.19,"y":0.12},{"i":16,"x":0.21,"y":0.11},{"i":16,"x":0.23,"y":0.1},{"i":16,"x":0.25,"y":0.12},{"i":16,"x":0.27,"y":0.1},{"i":16,"x":0.29,"y":0.08},{"i":16,"x":0.31,"y":0.06},{"i":16,"x":0.33,"y":0.05},{"i":16,"x":0.35,"y":0.035},{"i":16,"x":0.37,"y":0.025},{"i":16,"x":0.39,"y":0.015},{"i":16,"x":0.41,"y":0.01},{"i":16,"x":0.43,"y":1e-6},
{"i":17,"x":0,"y":0.02},{"i":17,"x":0.01,"y":0.018},{"i":17,"x":0.03,"y":0.012},{"i":17,"x":0.05,"y":0.006},{"i":17,"x":0.07,"y":0.002},{"i":17,"x":0.09,"y":1e-6},
{"i":18,"x":0,"y":0.26},{"i":18,"x":0.01,"y":0.24},{"i":18,"x":0.03,"y":0.2},{"i":18,"x":0.05,"y":0.17},{"i":18,"x":0.07,"y":0.14},{"i":18,"x":0.09,"y":0.11},{"i":18,"x":0.11,"y":0.08},{"i":18,"x":0.13,"y":0.05},{"i":18,"x":0.15,"y":0.03},{"i":18,"x":0.17,"y":0.015},{"i":18,"x":0.19,"y":0.006},{"i":18,"x":0.21,"y":0.002},{"i":18,"x":0.23,"y":1e-6},
{"i":19,"x":0,"y":0.18},{"i":19,"x":0.01,"y":0.2},{"i":19,"x":0.03,"y":0.19},{"i":19,"x":0.05,"y":0.17},{"i":19,"x":0.07,"y":0.15},{"i":19,"x":0.09,"y":0.14},{"i":19,"x":0.11,"y":0.13},{"i":19,"x":0.13,"y":0.12},{"i":19,"x":0.15,"y":0.1},{"i":19,"x":0.17,"y":0.09},{"i":19,"x":0.19,"y":0.08},{"i":19,"x":0.21,"y":0.07},{"i":19,"x":0.23,"y":0.05},{"i":19,"x":0.25,"y":0.035},{"i":19,"x":0.27,"y":0.02},{"i":19,"x":0.29,"y":0.01},{"i":19,"x":0.31,"y":0.005},{"i":19,"x":0.33,"y":0.002},{"i":19,"x":0.35,"y":1e-6},
{"i":20,"x":0,"y":0.11},{"i":20,"x":0.01,"y":0.13},{"i":20,"x":0.03,"y":0.12},{"i":20,"x":0.05,"y":0.11},{"i":20,"x":0.07,"y":0.1},{"i":20,"x":0.09,"y":0.1},{"i":20,"x":0.11,"y":0.09},{"i":20,"x":0.13,"y":0.09},{"i":20,"x":0.15,"y":0.08},{"i":20,"x":0.17,"y":0.08},{"i":20,"x":0.19,"y":0.07},{"i":20,"x":0.21,"y":0.06},{"i":20,"x":0.23,"y":0.055},{"i":20,"x":0.25,"y":0.05},{"i":20,"x":0.27,"y":0.045},{"i":20,"x":0.29,"y":0.04},{"i":20,"x":0.31,"y":0.035},{"i":20,"x":0.33,"y":0.03},{"i":20,"x":0.35,"y":0.03},{"i":20,"x":0.37,"y":0.025},{"i":20,"x":0.39,"y":0.02},{"i":20,"x":0.41,"y":1e-6},
{"i":21,"x":0,"y":0.16},{"i":21,"x":0.01,"y":0.17},{"i":21,"x":0.03,"y":0.16},{"i":21,"x":0.05,"y":0.15},{"i":21,"x":0.07,"y":0.13},{"i":21,"x":0.09,"y":0.11},{"i":21,"x":0.11,"y":0.09},{"i":21,"x":0.13,"y":0.07},{"i":21,"x":0.15,"y":0.05},{"i":21,"x":0.17,"y":0.035},{"i":21,"x":0.19,"y":0.02},{"i":21,"x":0.21,"y":0.01},{"i":21,"x":0.23,"y":0.005},{"i":21,"x":0.25,"y":0.002},{"i":21,"x":0.27,"y":1e-6},
{"i":22,"x":0,"y":0.06},{"i":22,"x":0.01,"y":0.08},{"i":22,"x":0.03,"y":0.09},{"i":22,"x":0.05,"y":0.1},{"i":22,"x":0.07,"y":0.11},{"i":22,"x":0.09,"y":0.12},{"i":22,"x":0.11,"y":0.13},{"i":22,"x":0.13,"y":0.14},{"i":22,"x":0.15,"y":0.15},{"i":22,"x":0.17,"y":0.14},{"i":22,"x":0.19,"y":0.13},{"i":22,"x":0.21,"y":0.1},{"i":22,"x":0.23,"y":0.08},{"i":22,"x":0.25,"y":0.06},{"i":22,"x":0.27,"y":0.04},{"i":22,"x":0.29,"y":0.025},{"i":22,"x":0.31,"y":0.015},{"i":22,"x":0.33,"y":0.008},{"i":22,"x":0.35,"y":0.004},{"i":22,"x":0.37,"y":0.002},{"i":22,"x":0.39,"y":1e-6},
{"i":23,"x":0,"y":0.01},{"i":23,"x":0.01,"y":0.008},{"i":23,"x":0.03,"y":0.004},{"i":23,"x":0.05,"y":1e-6},
{"i":24,"x":0,"y":0.08},{"i":24,"x":0.01,"y":0.07},{"i":24,"x":0.03,"y":0.05},{"i":24,"x":0.05,"y":0.035},{"i":24,"x":0.07,"y":0.02},{"i":24,"x":0.09,"y":0.012},{"i":24,"x":0.11,"y":0.006},{"i":24,"x":0.13,"y":0.003},{"i":24,"x":0.15,"y":0.0015},{"i":24,"x":0.17,"y":1e-6},
{"i":25,"x":0,"y":0.13},{"i":25,"x":0.01,"y":0.12},{"i":25,"x":0.03,"y":0.1},{"i":25,"x":0.05,"y":0.08},{"i":25,"x":0.07,"y":0.06},{"i":25,"x":0.09,"y":0.045},{"i":25,"x":0.11,"y":0.035},{"i":25,"x":0.13,"y":0.025},{"i":25,"x":0.15,"y":0.018},{"i":25,"x":0.17,"y":0.012},{"i":25,"x":0.19,"y":0.008},{"i":25,"x":0.21,"y":0.005},{"i":25,"x":0.23,"y":0.003},{"i":25,"x":0.25,"y":0.0018},{"i":25,"x":0.27,"y":0.001},{"i":25,"x":0.29,"y":1e-6},
{"i":26,"x":0,"y":0.24},{"i":26,"x":0.01,"y":0.26},{"i":26,"x":0.03,"y":0.22},{"i":26,"x":0.05,"y":0.18},{"i":26,"x":0.07,"y":0.13},{"i":26,"x":0.09,"y":0.09},{"i":26,"x":0.11,"y":0.05},{"i":26,"x":0.13,"y":1e-6},
{"i":27,"x":0,"y":0.05},{"i":27,"x":0.01,"y":0.06},{"i":27,"x":0.03,"y":0.07},{"i":27,"x":0.05,"y":0.065},{"i":27,"x":0.07,"y":0.06},{"i":27,"x":0.09,"y":0.055},{"i":27,"x":0.11,"y":0.05},{"i":27,"x":0.13,"y":0.045},{"i":27,"x":0.15,"y":0.04},{"i":27,"x":0.17,"y":0.035},{"i":27,"x":0.19,"y":0.03},{"i":27,"x":0.21,"y":0.028},{"i":27,"x":0.23,"y":0.025},{"i":27,"x":0.25,"y":0.02},{"i":27,"x":0.27,"y":0.016},{"i":27,"x":0.29,"y":0.012},{"i":27,"x":0.31,"y":0.01},{"i":27,"x":0.33,"y":0.008},{"i":27,"x":0.35,"y":0.006},{"i":27,"x":0.37,"y":0.009},{"i":27,"x":0.39,"y":0.005},{"i":27,"x":0.41,"y":0.003},{"i":27,"x":0.43,"y":1e-6},
{"i":28,"x":0,"y":0.1},{"i":28,"x":0.01,"y":0.11},{"i":28,"x":0.03,"y":0.1},{"i":28,"x":0.05,"y":0.09},{"i":28,"x":0.07,"y":0.08},{"i":28,"x":0.09,"y":0.07},{"i":28,"x":0.11,"y":0.06},{"i":28,"x":0.13,"y":0.05},{"i":28,"x":0.15,"y":0.04},{"i":28,"x":0.17,"y":0.03},{"i":28,"x":0.19,"y":0.02},{"i":28,"x":0.21,"y":0.015},{"i":28,"x":0.23,"y":0.01},{"i":28,"x":0.25,"y":0.006},{"i":28,"x":0.27,"y":0.003},{"i":28,"x":0.29,"y":0.0015},{"i":28,"x":0.31,"y":1e-6},
{"i":29,"x":0,"y":0.035},{"i":29,"x":0.01,"y":0.04},{"i":29,"x":0.03,"y":0.035},{"i":29,"x":0.05,"y":0.03},{"i":29,"x":0.07,"y":0.025},{"i":29,"x":0.09,"y":0.02},{"i":29,"x":0.11,"y":0.016},{"i":29,"x":0.13,"y":0.012},{"i":29,"x":0.15,"y":0.009},{"i":29,"x":0.17,"y":0.006},{"i":29,"x":0.19,"y":0.004},{"i":29,"x":0.21,"y":0.0025},{"i":29,"x":0.23,"y":0.0015},{"i":29,"x":0.25,"y":1e-6},
{"i":30,"x":0,"y":0.17},{"i":30,"x":0.01,"y":0.19},{"i":30,"x":0.03,"y":0.2},{"i":30,"x":0.05,"y":0.19},{"i":30,"x":0.07,"y":0.18},{"i":30,"x":0.09,"y":0.17},{"i":30,"x":0.11,"y":0.16},{"i":30,"x":0.13,"y":0.15},{"i":30,"x":0.15,"y":0.14},{"i":30,"x":0.17,"y":0.13},{"i":30,"x":0.19,"y":0.12},{"i":30,"x":0.21,"y":0.1},{"i":30,"x":0.23,"y":0.08},{"i":30,"x":0.25,"y":0.07},{"i":30,"x":0.27,"y":0.06},{"i":30,"x":0.29,"y":0.05},{"i":30,"x":0.31,"y":0.04},{"i":30,"x":0.33,"y":0.03},{"i":30,"x":0.35,"y":0.02},{"i":30,"x":0.37,"y":0.01},{"i":30,"x":0.39,"y":1e-6},
{"i":31,"x":0,"y":0.012},{"i":31,"x":0.01,"y":0.01},{"i":31,"x":0.03,"y":1e-6},
{"i":32,"x":0,"y":0.28},{"i":32,"x":0.01,"y":0.25},{"i":32,"x":0.03,"y":0.22},{"i":32,"x":0.05,"y":0.17},{"i":32,"x":0.07,"y":0.12},{"i":32,"x":0.09,"y":0.07},{"i":32,"x":0.11,"y":0.035},{"i":32,"x":0.13,"y":0.015},{"i":32,"x":0.15,"y":0.006},{"i":32,"x":0.17,"y":1e-6},
{"i":33,"x":0,"y":0.045},{"i":33,"x":0.01,"y":0.04},{"i":33,"x":0.03,"y":0.03},{"i":33,"x":0.05,"y":0.02},{"i":33,"x":0.07,"y":0.012},{"i":33,"x":0.09,"y":0.007},{"i":33,"x":0.11,"y":0.0035},{"i":33,"x":0.13,"y":0.0015},{"i":33,"x":0.15,"y":1e-6},
{"i":34,"x":0,"y":0.19},{"i":34,"x":0.01,"y":0.21},{"i":34,"x":0.03,"y":0.22},{"i":34,"x":0.05,"y":0.2},{"i":34,"x":0.07,"y":0.18},{"i":34,"x":0.09,"y":0.16},{"i":34,"x":0.11,"y":0.14},{"i":34,"x":0.13,"y":0.12},{"i":34,"x":0.15,"y":0.1},{"i":34,"x":0.17,"y":0.08},{"i":34,"x":0.19,"y":0.06},{"i":34,"x":0.21,"y":0.045},{"i":34,"x":0.23,"y":0.03},{"i":34,"x":0.25,"y":0.018},{"i":34,"x":0.27,"y":0.01},{"i":34,"x":0.29,"y":0.005},{"i":34,"x":0.31,"y":1e-6},
{"i":35,"x":0,"y":0.22},{"i":35,"x":0.01,"y":0.24},{"i":35,"x":0.03,"y":0.23},{"i":35,"x":0.05,"y":0.21},{"i":35,"x":0.07,"y":0.19},{"i":35,"x":0.09,"y":0.17},{"i":35,"x":0.11,"y":0.15},{"i":35,"x":0.13,"y":0.12},{"i":35,"x":0.15,"y":0.1},{"i":35,"x":0.17,"y":0.08},{"i":35,"x":0.19,"y":0.06},{"i":35,"x":0.21,"y":0.045},{"i":35,"x":0.23,"y":0.03},{"i":35,"x":0.25,"y":0.02},{"i":35,"x":0.27,"y":0.012},{"i":35,"x":0.29,"y":0.006},{"i":35,"x":0.31,"y":0.003},{"i":35,"x":0.33,"y":1e-6},
{"i":36,"x":0,"y":0.12},{"i":36,"x":0.01,"y":0.13},{"i":36,"x":0.03,"y":0.12},{"i":36,"x":0.05,"y":0.11},{"i":36,"x":0.07,"y":0.1},{"i":36,"x":0.09,"y":0.09},{"i":36,"x":0.11,"y":0.08},{"i":36,"x":0.13,"y":0.07},{"i":36,"x":0.15,"y":0.06},{"i":36,"x":0.17,"y":0.05},{"i":36,"x":0.19,"y":0.04},{"i":36,"x":0.21,"y":0.03},{"i":36,"x":0.23,"y":0.022},{"i":36,"x":0.25,"y":0.015},{"i":36,"x":0.27,"y":0.01},{"i":36,"x":0.29,"y":0.006},{"i":36,"x":0.31,"y":0.003},{"i":36,"x":0.33,"y":0.0015},{"i":36,"x":0.35,"y":1e-6},
{"i":37,"x":0,"y":0.06},{"i":37,"x":0.01,"y":0.065},{"i":37,"x":0.03,"y":0.06},{"i":37,"x":0.05,"y":0.05},{"i":37,"x":0.07,"y":0.04},{"i":37,"x":0.09,"y":0.03},{"i":37,"x":0.11,"y":0.022},{"i":37,"x":0.13,"y":0.016},{"i":37,"x":0.15,"y":0.011},{"i":37,"x":0.17,"y":0.007},{"i":37,"x":0.19,"y":0.004},{"i":37,"x":0.21,"y":0.002},{"i":37,"x":0.23,"y":0.001},{"i":37,"x":0.25,"y":1e-6},
{"i":38,"x":0,"y":0.16},{"i":38,"x":0.01,"y":0.18},{"i":38,"x":0.03,"y":0.19},{"i":38,"x":0.05,"y":0.18},{"i":38,"x":0.07,"y":0.17},{"i":38,"x":0.09,"y":0.16},{"i":38,"x":0.11,"y":0.15},{"i":38,"x":0.13,"y":0.14},{"i":38,"x":0.15,"y":0.13},{"i":38,"x":0.17,"y":0.12},{"i":38,"x":0.19,"y":0.11},{"i":38,"x":0.21,"y":0.1},{"i":38,"x":0.23,"y":0.09},{"i":38,"x":0.25,"y":0.08},{"i":38,"x":0.27,"y":0.07},{"i":38,"x":0.29,"y":0.06},{"i":38,"x":0.31,"y":0.05},{"i":38,"x":0.33,"y":0.04},{"i":38,"x":0.35,"y":0.03},{"i":38,"x":0.37,"y":0.02},{"i":38,"x":0.39,"y":0.012},{"i":38,"x":0.41,"y":0.006},{"i":38,"x":0.43,"y":1e-6},
{"i":39,"x":0,"y":0.3},{"i":39,"x":0.01,"y":0.29},{"i":39,"x":0.03,"y":0.26},{"i":39,"x":0.05,"y":0.22},{"i":39,"x":0.07,"y":0.18},{"i":39,"x":0.09,"y":0.14},{"i":39,"x":0.11,"y":0.1},{"i":39,"x":0.13,"y":0.07},{"i":39,"x":0.15,"y":0.04},{"i":39,"x":0.17,"y":0.02},{"i":39,"x":0.19,"y":0.01},{"i":39,"x":0.21,"y":0.004},{"i":39,"x":0.23,"y":1e-6},
{"i":40,"x":0,"y":0.09},{"i":40,"x":0.01,"y":0.085},{"i":40,"x":0.03,"y":0.08},{"i":40,"x":0.05,"y":0.07},{"i":40,"x":0.07,"y":0.06},{"i":40,"x":0.09,"y":0.05},{"i":40,"x":0.11,"y":0.04},{"i":40,"x":0.13,"y":0.03},{"i":40,"x":0.15,"y":0.022},{"i":40,"x":0.17,"y":0.015},{"i":40,"x":0.19,"y":0.01},{"i":40,"x":0.21,"y":0.006},{"i":40,"x":0.23,"y":0.003},{"i":40,"x":0.25,"y":0.0015},{"i":40,"x":0.27,"y":1e-6},
{"i":41,"x":0,"y":0.2},{"i":41,"x":0.01,"y":0.21},{"i":41,"x":0.03,"y":0.2},{"i":41,"x":0.05,"y":0.18},{"i":41,"x":0.07,"y":0.16},{"i":41,"x":0.09,"y":0.14},{"i":41,"x":0.11,"y":0.12},{"i":41,"x":0.13,"y":0.1},{"i":41,"x":0.15,"y":0.08},{"i":41,"x":0.17,"y":0.065},{"i":41,"x":0.19,"y":0.05},{"i":41,"x":0.21,"y":0.04},{"i":41,"x":0.23,"y":0.03},{"i":41,"x":0.25,"y":0.022},{"i":41,"x":0.27,"y":0.015},{"i":41,"x":0.29,"y":0.01},{"i":41,"x":0.31,"y":0.006},{"i":41,"x":0.33,"y":0.003},{"i":41,"x":0.35,"y":0.0015},{"i":41,"x":0.37,"y":1e-6},
{"i":42,"x":0,"y":0.025},{"i":42,"x":0.01,"y":0.03},{"i":42,"x":0.03,"y":0.025},{"i":42,"x":0.05,"y":0.02},{"i":42,"x":0.07,"y":0.015},{"i":42,"x":0.09,"y":0.01},{"i":42,"x":0.11,"y":0.006},{"i":42,"x":0.13,"y":0.003},{"i":42,"x":0.15,"y":0.0015},{"i":42,"x":0.17,"y":1e-6},
{"i":43,"x":0,"y":0.14},{"i":43,"x":0.01,"y":0.16},{"i":43,"x":0.03,"y":0.17},{"i":43,"x":0.05,"y":0.17},{"i":43,"x":0.07,"y":0.16},{"i":43,"x":0.09,"y":0.15},{"i":43,"x":0.11,"y":0.15},{"i":43,"x":0.13,"y":0.14},{"i":43,"x":0.15,"y":0.13},{"i":43,"x":0.17,"y":0.12},{"i":43,"x":0.19,"y":0.11},{"i":43,"x":0.21,"y":0.1},{"i":43,"x":0.23,"y":0.09},{"i":43,"x":0.25,"y":0.08},{"i":43,"x":0.27,"y":0.07},{"i":43,"x":0.29,"y":0.05},{"i":43,"x":0.31,"y":0.035},{"i":43,"x":0.33,"y":0.025},{"i":43,"x":0.35,"y":0.015},{"i":43,"x":0.37,"y":0.008},{"i":43,"x":0.39,"y":0.004},{"i":43,"x":0.41,"y":1e-6},
{"i":44,"x":0,"y":0.07},{"i":44,"x":0.01,"y":0.075},{"i":44,"x":0.03,"y":0.08},{"i":44,"x":0.05,"y":0.085},{"i":44,"x":0.07,"y":0.08},{"i":44,"x":0.09,"y":0.075},{"i":44,"x":0.11,"y":0.07},{"i":44,"x":0.13,"y":0.065},{"i":44,"x":0.15,"y":0.06},{"i":44,"x":0.17,"y":0.05},{"i":44,"x":0.19,"y":0.045},{"i":44,"x":0.21,"y":0.04},{"i":44,"x":0.23,"y":0.035},{"i":44,"x":0.25,"y":0.03},{"i":44,"x":0.27,"y":0.025},{"i":44,"x":0.29,"y":0.02},{"i":44,"x":0.31,"y":0.015},{"i":44,"x":0.33,"y":0.012},{"i":44,"x":0.35,"y":0.009},{"i":44,"x":0.37,"y":0.006},{"i":44,"x":0.39,"y":0.004},{"i":44,"x":0.41,"y":0.002},{"i":44,"x":0.43,"y":1e-6},
{"i":45,"x":0,"y":0.26},{"i":45,"x":0.01,"y":0.27},{"i":45,"x":0.03,"y":0.25},{"i":45,"x":0.05,"y":0.22},{"i":45,"x":0.07,"y":0.19},{"i":45,"x":0.09,"y":0.16},{"i":45,"x":0.11,"y":0.13},{"i":45,"x":0.13,"y":0.1},{"i":45,"x":0.15,"y":0.07},{"i":45,"x":0.17,"y":0.05},{"i":45,"x":0.19,"y":0.03},{"i":45,"x":0.21,"y":0.018},{"i":45,"x":0.23,"y":0.01},{"i":45,"x":0.25,"y":0.005},{"i":45,"x":0.27,"y":1e-6},
{"i":46,"x":0,"y":0.1},{"i":46,"x":0.01,"y":0.1},{"i":46,"x":0.03,"y":0.09},{"i":46,"x":0.05,"y":0.08},{"i":46,"x":0.07,"y":0.065},{"i":46,"x":0.09,"y":0.05},{"i":46,"x":0.11,"y":0.04},{"i":46,"x":0.13,"y":0.03},{"i":46,"x":0.15,"y":0.02},{"i":46,"x":0.17,"y":0.012},{"i":46,"x":0.19,"y":0.007},{"i":46,"x":0.21,"y":0.004},{"i":46,"x":0.23,"y":0.002},{"i":46,"x":0.25,"y":0.001},{"i":46,"x":0.27,"y":1e-6},
{"i":47,"x":0,"y":0.18},{"i":47,"x":0.01,"y":0.17},{"i":47,"x":0.03,"y":0.16},{"i":47,"x":0.05,"y":0.15},{"i":47,"x":0.07,"y":0.14},{"i":47,"x":0.09,"y":0.13},{"i":47,"x":0.11,"y":0.12},{"i":47,"x":0.13,"y":0.11},{"i":47,"x":0.15,"y":0.1},{"i":47,"x":0.17,"y":0.09},{"i":47,"x":0.19,"y":0.075},{"i":47,"x":0.21,"y":0.06},{"i":47,"x":0.23,"y":0.05},{"i":47,"x":0.25,"y":0.04},{"i":47,"x":0.27,"y":0.03},{"i":47,"x":0.29,"y":0.02},{"i":47,"x":0.31,"y":0.013},{"i":47,"x":0.33,"y":0.008},{"i":47,"x":0.35,"y":0.005},{"i":47,"x":0.37,"y":0.003},{"i":47,"x":0.39,"y":1e-6},
{"i":48,"x":0,"y":0.04},{"i":48,"x":0.01,"y":0.035},{"i":48,"x":0.03,"y":0.03},{"i":48,"x":0.05,"y":0.022},{"i":48,"x":0.07,"y":0.015},{"i":48,"x":0.09,"y":0.01},{"i":48,"x":0.11,"y":0.006},{"i":48,"x":0.13,"y":0.0035},{"i":48,"x":0.15,"y":0.002},{"i":48,"x":0.17,"y":0.001},{"i":48,"x":0.19,"y":1e-6},
{"i":49,"x":0,"y":0.05},{"i":49,"x":0.01,"y":0.06},{"i":49,"x":0.03,"y":0.07},{"i":49,"x":0.05,"y":0.08},{"i":49,"x":0.07,"y":0.09},{"i":49,"x":0.09,"y":0.1},{"i":49,"x":0.11,"y":0.1},{"i":49,"x":0.13,"y":0.11},{"i":49,"x":0.15,"y":0.12},{"i":49,"x":0.17,"y":0.12},{"i":49,"x":0.19,"y":0.11},{"i":49,"x":0.21,"y":0.1},{"i":49,"x":0.23,"y":0.09},{"i":49,"x":0.25,"y":0.1},{"i":49,"x":0.27,"y":0.09},{"i":49,"x":0.29,"y":0.08},{"i":49,"x":0.31,"y":0.065},{"i":49,"x":0.33,"y":0.05},{"i":49,"x":0.35,"y":0.04},{"i":49,"x":0.37,"y":0.03},{"i":49,"x":0.39,"y":0.02},{"i":49,"x":0.41,"y":0.014},{"i":49,"x":0.43,"y":0.009},{"i":49,"x":0.45,"y":1e-6},
{"i":50,"x":0,"y":0.15},{"i":50,"x":0.01,"y":0.14},{"i":50,"x":0.03,"y":0.12},{"i":50,"x":0.05,"y":0.1},{"i":50,"x":0.07,"y":0.08},{"i":50,"x":0.09,"y":0.06},{"i":50,"x":0.11,"y":0.045},{"i":50,"x":0.13,"y":0.033},{"i":50,"x":0.15,"y":0.024},{"i":50,"x":0.17,"y":0.017},{"i":50,"x":0.19,"y":0.012},{"i":50,"x":0.21,"y":0.008},{"i":50,"x":0.23,"y":0.005},{"i":50,"x":0.25,"y":0.003},{"i":50,"x":0.27,"y":0.002},{"i":50,"x":0.29,"y":0.0012},{"i":50,"x":0.31,"y":1e-6},
{"i":"b","x":0,"y":0.241},{"i":"b","x":0.01,"y":0.274},{"i":"b","x":0.03,"y":0.142},{"i":"b","x":0.05,"y":0.142},{"i":"b","x":0.07,"y":0.055},{"i":"b","x":0.09,"y":0.0199},{"i":"b","x":0.11,"y":1e-6},
{"i":"m","x":0,"y":0.076},{"i":"m","x":0.03,"y":0.106},{"i":"m","x":0.05,"y":0.068},{"i":"m","x":0.07,"y":0.026},{"i":"m","x":0.09,"y":0.0099},{"i":"m","x":0.11,"y":0.0113},{"i":"m","x":0.13,"y":0.00257},{"i":"m","x":0.15,"y":0.0041},{"i":"m","x":0.17,"y":0.0344},{"i":"m","x":0.19,"y":0.0344},{"i":"m","x":0.21,"y":0.09},{"i":"m","x":0.23,"y":0.066},{"i":"m","x":0.25,"y":0.0607},{"i":"m","x":0.27,"y":0.0692},{"i":"m","x":0.29,"y":0.0759},{"i":"m","x":0.31,"y":0.0519},{"i":"m","x":0.33,"y":0.0231},{"i":"m","x":0.35,"y":0.0151},{"i":"m","x":0.37,"y":0.0328},{"i":"m","x":0.39,"y":0.0165},{"i":"m","x":0.41,"y":0.0267},{"i":"m","x":0.43,"y":0.00566},{"i":"m","x":0.45,"y":1e-6},
{"i":"k","x":0,"y":0.092},{"i":"k","x":0.02,"y":0.077},{"i":"k","x":0.04,"y":0.066},{"i":"k","x":0.06,"y":0.057},{"i":"k","x":0.08,"y":0.048},{"i":"k","x":0.1,"y":0.04},{"i":"k","x":0.12,"y":0.034},{"i":"k","x":0.14,"y":0.026},{"i":"k","x":0.16,"y":0.02},{"i":"k","x":0.18,"y":0.0166},{"i":"k","x":0.2,"y":0.013},{"i":"k","x":0.22,"y":0.0096},{"i":"k","x":0.24,"y":0.0066},{"i":"k","x":0.26,"y":0.00475},{"i":"k","x":0.28,"y":0.00297},{"i":"k","x":0.3,"y":0.0019},{"i":"k","x":0.32,"y":0.0011},{"i":"k","x":0.34,"y":0.00055},{"i":"k","x":0.36,"y":0.00033},{"i":"k","x":0.38,"y":0.000184},{"i":"k","x":0.4,"y":0.000168},{"i":"k","x":0.42,"y":0.00008}
]
},
"hconcat": [
{
 "width": 304, "height": 472,
 "title": {"text": "MUT", "anchor": "middle", "frame": "group", "offset": 10},
 "data": {"name": "mut"},
 "resolve": {"axis": {"x": "independent", "y": "independent"}},
 "layer": [
  {"transform": [{"filter": "isNumber(datum.i)"}],
   "mark": {"type": "line", "clip": true, "color": "#d9d9d9", "strokeWidth": 1.6},
   "encoding": {
    "x": {"field": "x", "type": "quantitative", "scale": {"type": "linear", "domain": [0, 0.45], "nice": false, "zero": false},
          "axis": {"orient": "bottom", "values": [0, 0.1, 0.2, 0.3, 0.4], "tickSize": -13, "labelPadding": 19, "format": "~g", "title": "Ice supersaturation", "titlePadding": 2}},
    "y": {"field": "y", "type": "quantitative", "scale": {"type": "log", "domain": [0.0001, 0.4], "nice": false},
          "axis": {"orient": "left", "values": [0.0001, 0.001, 0.01, 0.1], "tickSize": -13, "labelPadding": 16, "format": "~g", "title": "Probability distribution", "titlePadding": 6}},
    "detail": {"field": "i", "type": "nominal"}
   }},
  {"transform": [{"filter": "datum.i === 'b'"}],
   "mark": {"type": "line", "clip": true, "color": "#0000ff", "strokeWidth": 1.8},
   "encoding": {
    "x": {"field": "x", "type": "quantitative", "axis": {"orient": "top", "values": [0.1, 0.2, 0.3, 0.4], "tickSize": -13, "labels": false, "title": null}},
    "y": {"field": "y", "type": "quantitative", "axis": {"orient": "right", "values": [0.0001, 0.001, 0.01, 0.1], "tickSize": -13, "labels": false, "title": null}}
   }},
  {"transform": [{"filter": "datum.i === 'm'"}],
   "mark": {"type": "line", "clip": true, "color": "#ff00ff", "strokeWidth": 2},
   "encoding": {
    "x": {"field": "x", "type": "quantitative", "axis": null},
    "y": {"field": "y", "type": "quantitative", "axis": {"orient": "left", "values": [0.0002,0.0003,0.0004,0.0005,0.0006,0.0007,0.0008,0.0009,0.002,0.003,0.004,0.005,0.006,0.007,0.008,0.009,0.02,0.03,0.04,0.05,0.06,0.07,0.08,0.09,0.2,0.3], "tickSize": -7, "labels": false, "domain": false, "title": null}}
   }},
  {"transform": [{"filter": "datum.i === 'k'"}],
   "mark": {"type": "line", "clip": true, "color": "#000000", "strokeWidth": 3},
   "encoding": {
    "x": {"field": "x", "type": "quantitative", "axis": null},
    "y": {"field": "y", "type": "quantitative", "axis": {"orient": "right", "values": [0.0002,0.0003,0.0004,0.0005,0.0006,0.0007,0.0008,0.0009,0.002,0.003,0.004,0.005,0.006,0.007,0.008,0.009,0.02,0.03,0.04,0.05,0.06,0.07,0.08,0.09,0.2,0.3], "tickSize": -7, "labels": false, "domain": false, "title": null}}
   }},
  {"data": {"values": [{"t": "(a)"}]},
   "mark": {"type": "text", "align": "left", "baseline": "alphabetic", "fontSize": 18.6, "font": "Liberation Sans", "color": "black"},
   "encoding": {
    "x": {"datum": 0.024, "type": "quantitative", "axis": null},
    "y": {"datum": 0.222, "type": "quantitative", "axis": null},
    "text": {"field": "t"}
   }}
 ]
},
{
 "width": 304, "height": 472,
 "title": {"text": "TTL", "anchor": "middle", "frame": "group", "offset": 10},
 "data": {"name": "ttl"},
 "resolve": {"axis": {"x": "independent", "y": "independent"}},
 "layer": [
  {"transform": [{"filter": "isNumber(datum.i)"}],
   "mark": {"type": "line", "clip": true, "color": "#d9d9d9", "strokeWidth": 1.6},
   "encoding": {
    "x": {"field": "x", "type": "quantitative", "scale": {"type": "linear", "domain": [0, 0.45], "nice": false, "zero": false},
          "axis": {"orient": "bottom", "values": [0, 0.1, 0.2, 0.3, 0.4], "tickSize": -13, "labelPadding": 19, "format": "~g", "title": "Ice supersaturation", "titlePadding": 2}},
    "y": {"field": "y", "type": "quantitative", "scale": {"type": "log", "domain": [0.0001, 0.4], "nice": false},
          "axis": {"orient": "left", "values": [0.0001, 0.001, 0.01, 0.1], "tickSize": -13, "labels": false, "title": null}},
    "detail": {"field": "i", "type": "nominal"}
   }},
  {"transform": [{"filter": "datum.i === 'b'"}],
   "mark": {"type": "line", "clip": true, "color": "#0000ff", "strokeWidth": 1.8},
   "encoding": {
    "x": {"field": "x", "type": "quantitative", "axis": {"orient": "top", "values": [0.1, 0.2, 0.3, 0.4], "tickSize": -13, "labels": false, "title": null}},
    "y": {"field": "y", "type": "quantitative", "axis": {"orient": "right", "values": [0.0001, 0.001, 0.01, 0.1], "tickSize": -13, "labelPadding": 19, "format": "~g", "title": "Probability distribution", "titlePadding": 3, "titleAngle": 270, "titleBaseline": "top"}}
   }},
  {"transform": [{"filter": "datum.i === 'm'"}],
   "mark": {"type": "line", "clip": true, "color": "#ff00ff", "strokeWidth": 2},
   "encoding": {
    "x": {"field": "x", "type": "quantitative", "axis": null},
    "y": {"field": "y", "type": "quantitative", "axis": {"orient": "left", "values": [0.0002,0.0003,0.0004,0.0005,0.0006,0.0007,0.0008,0.0009,0.002,0.003,0.004,0.005,0.006,0.007,0.008,0.009,0.02,0.03,0.04,0.05,0.06,0.07,0.08,0.09,0.2,0.3], "tickSize": -7, "labels": false, "domain": false, "title": null}}
   }},
  {"transform": [{"filter": "datum.i === 'k'"}],
   "mark": {"type": "line", "clip": true, "color": "#000000", "strokeWidth": 3},
   "encoding": {
    "x": {"field": "x", "type": "quantitative", "axis": null},
    "y": {"field": "y", "type": "quantitative", "axis": {"orient": "right", "values": [0.0002,0.0003,0.0004,0.0005,0.0006,0.0007,0.0008,0.0009,0.002,0.003,0.004,0.005,0.006,0.007,0.008,0.009,0.02,0.03,0.04,0.05,0.06,0.07,0.08,0.09,0.2,0.3], "tickSize": -7, "labels": false, "domain": false, "title": null}}
   }},
  {"data": {"values": [{"t": "(b)"}]},
   "mark": {"type": "text", "align": "left", "baseline": "alphabetic", "fontSize": 18.6, "font": "Liberation Sans", "color": "black"},
   "encoding": {
    "x": {"datum": 0.024, "type": "quantitative", "axis": null},
    "y": {"datum": 0.21, "type": "quantitative", "axis": null},
    "text": {"field": "t"}
   }}
 ]
}
]
}
